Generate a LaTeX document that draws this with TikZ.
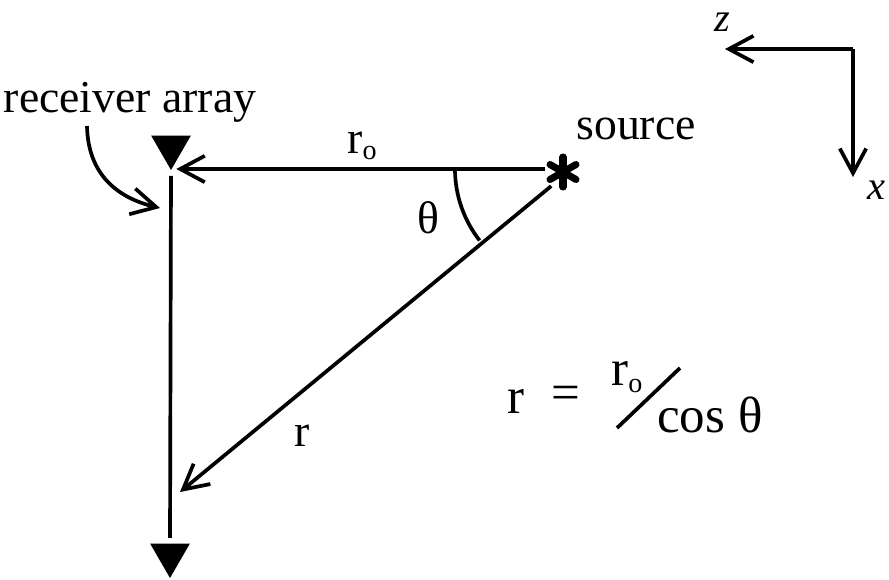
\documentclass[tikz,border=0pt]{standalone}
\usepackage{fontspec}
\setmainfont{Liberation Serif}
\usepackage{tikz}
\usetikzlibrary{arrows.meta,shapes.geometric}

\newcommand{\subo}{\raisebox{-0.3ex}{\fontsize{16}{16}\selectfont o}}

\tikzset{
  lbl/.style={font=\fontsize{26}{28}\selectfont, inner sep=0pt},
  fml/.style={font=\fontsize{29}{30}\selectfont, inner sep=0pt},
  axlbl/.style={font=\fontsize{23}{24}\selectfont\itshape, inner sep=0pt},
  ray/.style={line width=2.1pt, -{Straight Barb[length=14pt,width=15pt,line width=2.1pt]}},
  rcv/.style={regular polygon, regular polygon sides=3, shape border rotate=180,
              fill=black, inner sep=0pt, minimum size=0.92cm}
}

\begin{document}
\begin{tikzpicture}[x=0.02cm,y=-0.02cm]
  \useasboundingbox (0,0) rectangle (889,579);

  % Receiver array
  \node[rcv] (rtop) at (171,147) {};
  \node[rcv] (rbot) at (170,555) {};
  \draw[line width=2.1pt, shorten <=3pt, shorten >=3pt] (rtop.south) -- (rbot.north);
  \node[lbl, anchor=base] (rcvlbl) at (130,112) {receiver array};
  \coordinate (bendstart) at (87,126);
  \coordinate (bendend) at (160,208);
  \draw[ray] (bendstart) .. controls (88,175) and (118,198) .. (bendend);

  % Source
  \node[circle, inner sep=0pt, minimum size=0.72cm] (src) at (563,172) {};
  \foreach \a in {90,30,150} {
    \draw[line width=4pt, line cap=round] (src.center) ++(\a:15) -- ++(\a+180:30);
  }
  \node[lbl, anchor=base] (srclbl) at (636,139) {source};

  % Rays
  \draw[ray, shorten >=3pt] (src.west |- 0,169) -- (rtop.south |- 0,169);
  \coordinate (rend) at (180,492);
  \draw[ray] (src.230) -- (rend);
  \node[lbl, anchor=base] (rolbl) at (362,153) {r\subo};
  \node[lbl, anchor=base] (rlbl) at (302,446) {r};

  % Angle
  \coordinate (apex) at (571,169);
  \draw[line width=2.1pt] (apex) ++(180:116) arc[start angle=180, end angle=142, radius=116];
  \node[lbl, anchor=base] (thlbl) at (428,233) {θ};

  % Formula
  \node[fml, anchor=base] (fr) at (516,413) {r};
  \node[fml] (feq) at (566,398) {=};
  \node[fml, anchor=base west] (fro) at (611,385) {r\subo};
  \draw[line width=2.1pt] (617,428) -- (680,368);
  \node[fml, anchor=base west] (fcos) at (657,432) {cos θ};

  % Axes
  \coordinate (axo) at (853,49);
  \coordinate (zend) at (725,49);
  \coordinate (xend) at (853,177);
  \draw[ray] (axo) -- (zend);
  \draw[ray] (axo) -- (xend);
  \node[axlbl] (zlbl) at (722,22) {z};
  \node[axlbl] (xlbl) at (876,190) {x};
\end{tikzpicture}
\end{document}
